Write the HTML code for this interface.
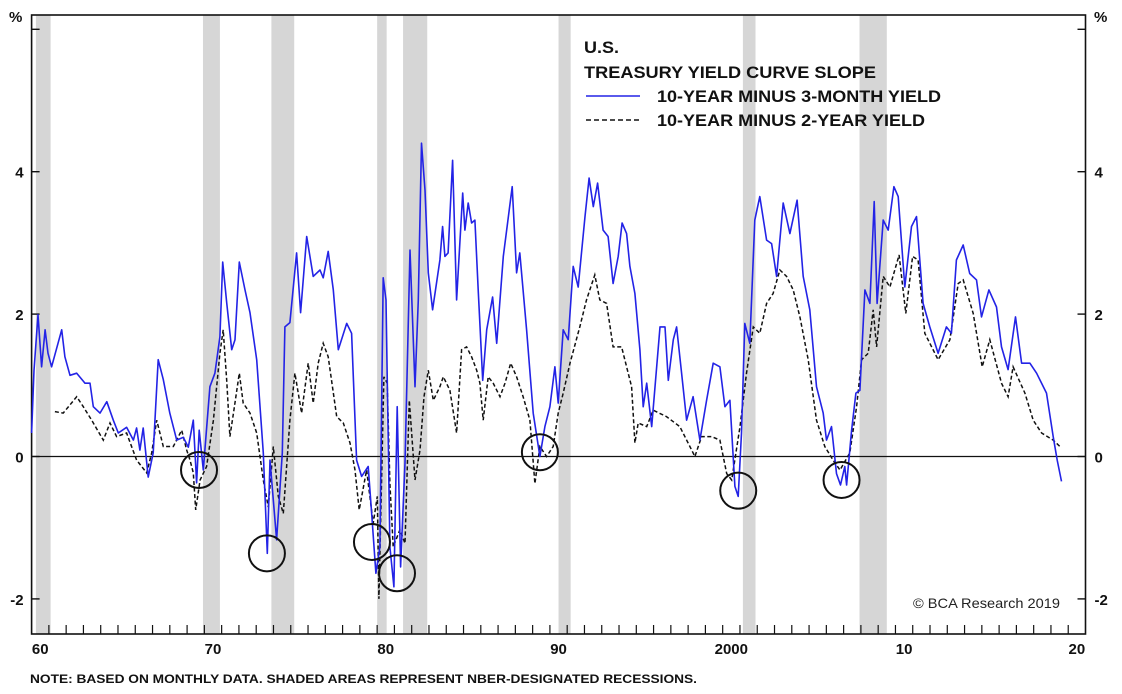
<!DOCTYPE html>
<html><head><meta charset="utf-8"><style>
html,body{margin:0;padding:0;background:#fff;}
svg{display:block;font-family:"Liberation Sans",Arial,sans-serif;}
</style></head><body>
<svg id="chart" width="1122" height="694" viewBox="0 0 1122 694" xmlns="http://www.w3.org/2000/svg">
<g id="rec"></g>
<g id="axes"></g>
<g id="series"></g>
<g id="circ"></g>
<g font-weight="bold" font-size="16.5" fill="#111">
<text x="584" y="53" textLength="35" lengthAdjust="spacingAndGlyphs">U.S.</text>
<text x="584" y="78" textLength="292" lengthAdjust="spacingAndGlyphs">TREASURY YIELD CURVE SLOPE</text>
<line x1="586" y1="96" x2="640" y2="96" stroke="#2323e6" stroke-width="1.6"/>
<text x="657" y="102" textLength="284" lengthAdjust="spacingAndGlyphs">10-YEAR MINUS 3-MONTH YIELD</text>
<line x1="586" y1="120" x2="640" y2="120" stroke="#111" stroke-width="1.6" stroke-dasharray="5,3"/>
<text x="657" y="126" textLength="268" lengthAdjust="spacingAndGlyphs">10-YEAR MINUS 2-YEAR YIELD</text>
</g>
<text x="913" y="608" font-size="14" fill="#222" textLength="147" lengthAdjust="spacingAndGlyphs">© BCA Research 2019</text>
<text x="30" y="683" font-size="12" font-weight="bold" fill="#111" textLength="667" lengthAdjust="spacingAndGlyphs">NOTE: BASED ON MONTHLY DATA. SHADED AREAS REPRESENT NBER-DESIGNATED RECESSIONS.</text>
</svg>
<script>
const yTicks=[-2,0,2,4,6];
const yTickLabels=["-2","0","2","4",""];
const xLabelYears=[1960,1970,1980,1990,2000,2010,2020];
const xLabels=["60","70","80","90","2000","10","20"];
const recStart=[1960.25,1969.92,1973.88,1980.0,1981.5,1990.5,2001.17,2007.92];
const recEnd=[1961.1,1970.9,1975.2,1980.55,1982.9,1991.2,2001.9,2009.5];
const s3mYears=[1960.0,60.14,60.37,60.58,60.78,60.95,61.16,61.74,61.93,62.22,62.61,63.09,63.38,63.57,63.96,64.35,64.73,65.02,65.5,65.89,66.08,66.27,66.46,66.75,67.04,67.33,67.62,68.0,68.4,68.78,69.07,69.36,69.55,69.7,69.94,70.32,70.61,70.9,71.06,71.29,71.58,71.77,72.02,72.35,72.64,73.03,73.41,73.64,73.8,74.18,74.51,74.66,74.95,75.34,75.57,75.92,76.3,76.69,76.88,77.17,77.46,77.75,78.24,78.52,78.81,79.1,79.48,79.68,79.93,80.16,80.35,80.51,80.74,80.97,81.16,81.36,81.61,81.9,82.19,82.38,82.57,82.77,82.96,83.21,83.63,83.79,83.92,84.11,84.37,84.6,84.95,85.08,85.27,85.47,85.66,85.85,86.11,86.34,86.68,86.92,87.3,87.82,88.07,88.26,88.65,89.03,89.42,89.71,90.0,90.29,90.48,90.77,91.06,91.35,91.64,92.03,92.27,92.51,92.76,93.08,93.37,93.66,93.95,94.18,94.44,94.63,94.92,95.21,95.4,95.6,95.89,96.37,96.66,96.85,97.14,97.33,97.62,97.91,98.29,98.68,99.07,99.45,99.84,100.13,100.42,100.71,100.9,101.09,101.28,101.57,101.86,102.15,102.54,102.83,103.12,103.5,103.89,104.31,104.66,105.04,105.43,105.82,106.01,106.3,106.59,106.82,107.07,107.17,107.46,107.71,107.94,108.23,108.52,108.77,108.94,109.29,109.58,109.91,110.16,110.54,110.93,111.22,111.6,111.99,112.47,112.95,113.24,113.53,113.92,114.3,114.69,114.98,115.41,115.85,116.14,116.52,116.95,117.3,117.78,118.17,118.74,119.13,119.36,119.61];
const s3mValues=[0.33,1.21,1.99,1.26,1.78,1.45,1.26,1.78,1.40,1.14,1.17,1.03,1.03,0.70,0.61,0.77,0.51,0.33,0.41,0.23,0.40,0.09,0.40,-0.29,0.05,1.36,1.08,0.61,0.23,0.27,0.13,0.51,-0.37,0.37,-0.19,0.98,1.17,1.68,2.73,2.16,1.50,1.64,2.73,2.34,2.02,1.36,0.05,-1.36,-0.05,-1.17,0.05,1.82,1.88,2.86,2.02,3.09,2.53,2.62,2.51,2.88,2.34,1.50,1.87,1.73,-0.05,-0.28,-0.14,-0.79,-1.64,-1.27,2.51,2.20,-1.27,-1.83,0.70,-1.55,-0.09,2.90,0.98,2.20,4.40,3.74,2.58,2.06,2.76,3.23,2.81,2.86,4.16,2.20,3.70,3.18,3.56,3.28,3.32,2.34,1.07,1.78,2.24,1.59,2.81,3.79,2.58,2.86,1.78,0.61,0.0,0.42,0.70,1.26,0.75,1.78,1.64,2.67,2.38,3.37,3.91,3.51,3.84,3.18,3.09,2.43,2.81,3.28,3.13,2.67,2.29,1.50,0.70,1.03,0.42,1.82,1.82,1.07,1.64,1.82,1.17,0.51,0.84,0.23,0.79,1.31,1.26,0.70,0.79,-0.42,-0.56,0.33,1.87,1.59,3.32,3.65,3.04,2.99,2.53,3.56,3.13,3.60,2.53,2.06,0.98,0.61,0.23,0.42,-0.24,-0.40,-0.14,-0.40,0.37,0.89,0.93,2.34,2.15,3.58,2.15,3.32,3.18,3.79,3.65,2.38,3.23,3.37,2.15,1.82,1.45,1.82,1.73,2.76,2.97,2.57,2.48,1.96,2.34,2.10,1.54,1.22,1.96,1.31,1.31,1.17,0.89,0.28,-0.05,-0.35];
const s2yYears=[61.35,61.83,62.61,62.99,63.48,64.15,64.54,64.92,65.5,66.08,66.66,66.95,67.24,67.62,68.2,68.69,68.98,69.17,69.36,69.5,69.75,70.13,70.52,70.9,71.09,71.29,71.48,71.71,72.02,72.25,72.64,73.03,73.41,73.7,73.99,74.28,74.57,74.95,75.24,75.63,76.01,76.3,76.59,76.88,77.17,77.66,78.04,78.43,78.72,78.96,79.39,79.77,80.01,80.1,80.39,80.58,80.74,80.93,81.32,81.61,81.86,82.19,82.48,82.71,82.96,83.25,83.63,83.83,84.21,84.6,84.89,85.18,85.47,85.76,85.95,86.14,86.43,86.72,87.11,87.4,87.73,88.07,88.45,88.84,89.13,89.42,89.81,90.19,90.48,90.77,91.16,91.73,92.12,92.6,92.89,93.28,93.66,94.15,94.73,94.92,95.11,95.6,95.98,96.75,97.52,98.0,98.39,98.78,99.36,99.84,100.23,100.52,101.0,101.38,101.77,102.15,102.54,102.92,103.31,103.7,104.08,104.47,104.95,105.43,105.91,106.39,106.79,107.36,107.75,108.04,108.42,108.71,108.91,109.29,109.68,110.21,110.6,110.99,111.31,111.7,112.47,113.15,113.63,113.92,114.5,115.02,115.46,116.14,116.52,116.81,117.49,117.97,118.46,119.13,119.52];
const s2yValues=[0.63,0.61,0.84,0.70,0.51,0.23,0.47,0.28,0.33,-0.05,-0.23,0.05,0.51,0.14,0.14,0.37,0.09,-0.05,-0.23,-0.75,-0.33,-0.14,0.51,1.45,1.78,1.07,0.28,0.65,1.17,0.75,0.61,0.33,-0.33,-0.71,0.14,-0.56,-0.80,0.51,1.17,0.61,1.31,0.75,1.31,1.59,1.40,0.56,0.47,0.19,-0.19,-0.75,-0.19,-0.94,-0.56,-2.0,1.12,1.03,-0.38,-1.27,-1.03,-1.22,0.79,-0.33,0.09,0.84,1.21,0.79,0.98,1.12,0.93,0.33,1.50,1.54,1.40,1.21,1.03,0.51,1.12,1.03,0.84,1.03,1.31,1.12,0.84,0.51,-0.38,0.14,0.0,0.14,0.61,0.89,1.31,1.82,2.20,2.55,2.20,2.15,1.54,1.54,0.98,0.19,0.47,0.42,0.65,0.56,0.42,0.19,0.0,0.28,0.28,0.23,-0.24,-0.33,0.42,1.17,1.82,1.73,2.15,2.29,2.62,2.53,2.34,1.96,1.36,0.51,0.14,-0.05,-0.19,0.05,0.70,1.36,1.45,2.06,1.54,2.53,2.38,2.83,2.01,2.81,2.76,1.73,1.36,1.64,2.43,2.48,2.01,1.26,1.64,1.03,0.84,1.26,0.89,0.51,0.33,0.23,0.14];
const circleYears=[1969.69,1973.62,1979.7,1981.15,1989.42,2000.9,2006.88];
const circleValues=[-0.19,-1.36,-1.2,-1.64,0.06,-0.48,-0.33];

const NS="http://www.w3.org/2000/svg";
const L=31.6,R=1085.5,T=15,B=634;
const X0=1960,X1=2021;
function yr(v){return v<200?1900+v:v;}
function xS(y){return L+(y-X0)/(X1-X0)*(R-L);}
function yS(v){return 456.5-v*71.2;}
function mk(tag,attrs,parent){const e=document.createElementNS(NS,tag);for(const k in attrs)e.setAttribute(k,attrs[k]);parent.appendChild(e);return e;}
const rec=document.getElementById('rec');
for(let i=0;i<recStart.length;i++){
  const r=mk('rect',{x:xS(recStart[i]),y:T,width:xS(recEnd[i])-xS(recStart[i]),height:B-T,fill:'#d6d6d6'},rec);
  
  
}
const ax=document.getElementById('axes');
const fr=mk('rect',{x:L,y:T,width:R-L,height:B-T,fill:'none',stroke:'#111','stroke-width':1.6},ax);


const z=mk('line',{x1:L,x2:R,y1:yS(0),y2:yS(0),stroke:'#111','stroke-width':1.3},ax);


for(let i=0;i<yTicks.length;i++){
  const y=yS(yTicks[i]);
  mk('line',{x1:L,x2:L+8,y1:y,y2:y,stroke:'#111','stroke-width':1.4},ax);
  mk('line',{x1:R-8,x2:R,y1:y,y2:y,stroke:'#111','stroke-width':1.4},ax);
  if(yTickLabels[i]){
    const t1=mk('text',{x:L-8,y:y+6,'text-anchor':'end','font-size':15,'font-weight':'bold',fill:'#111'},ax);t1.textContent=yTickLabels[i];
    
    
    const t2=mk('text',{x:R+9,y:y+6,'font-size':15,'font-weight':'bold',fill:'#111'},ax);t2.textContent=yTickLabels[i];
    
    
  }
}
const p1=mk('text',{x:9,y:22,'font-size':15,'font-weight':'bold',fill:'#111'},ax);p1.textContent='%';


const p2=mk('text',{x:1094,y:22,'font-size':15,'font-weight':'bold',fill:'#111'},ax);p2.textContent='%';


for(let y=X0+1;y<X1;y++){mk('line',{x1:xS(y),x2:xS(y),y1:B,y2:B-9,stroke:'#111','stroke-width':1.2},ax);}
for(let i=0;i<xLabels.length;i++){
  const t=mk('text',{x:xS(xLabelYears[i]+0.5),y:654,'text-anchor':'middle','font-size':15,'font-weight':'bold',fill:'#111'},ax);
  t.textContent=xLabels[i];
  
  
}
const sg=document.getElementById('series');
function pts(ys,vs){return ys.map((y,i)=>xS(yr(y)).toFixed(1)+','+yS(vs[i]).toFixed(1)).join(' ');}
const d2=mk('polyline',{points:pts(s2yYears,s2yValues),fill:'none',stroke:'#111','stroke-width':1.5,'stroke-dasharray':'4,2.5'},sg);


const d1=mk('polyline',{points:pts(s3mYears,s3mValues),fill:'none',stroke:'#2323e6','stroke-width':1.6,'stroke-linejoin':'round'},sg);


const cg=document.getElementById('circ');
for(let i=0;i<circleYears.length;i++){
  const c=mk('circle',{cx:xS(circleYears[i]),cy:yS(circleValues[i]),r:18,fill:'none',stroke:'#111','stroke-width':2},cg);
  
  
}
</script>
</body></html>
